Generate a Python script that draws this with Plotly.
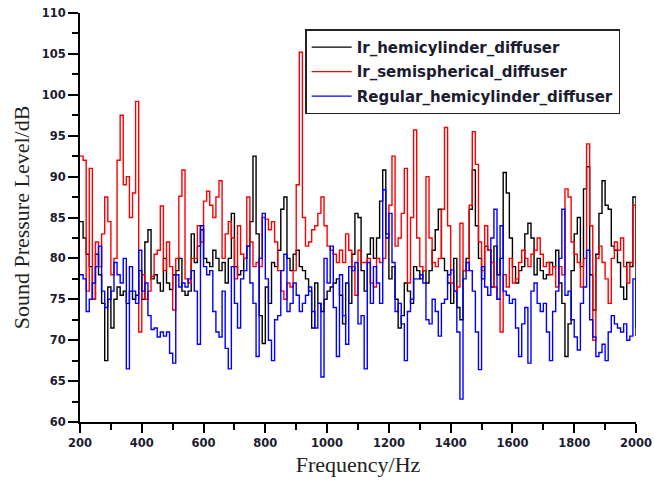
import plotly.graph_objects as go

# Frequency axis: 200 Hz to 2000 Hz in 10 Hz steps
freq_start, freq_stop, freq_step = 200, 2000, 10
freq = list(range(freq_start, freq_stop + 1, freq_step))

series_names = [
    "Ir_hemicylinder_diffuser",
    "Ir_semispherical_diffuser",
    "Regular_hemicylinder_diffuser",
]

ir_hemicylinder = [
    84.5, 82.5, 80.5, 79, 75, 80.5, 78, 74.5, 67.5, 76.5, 71.5, 75, 76.5, 75.5, 76, 74.5, 76, 75, 75.5, 78.5, 75, 82, 83.5,
    77.5, 78, 77, 76, 80, 77, 76.2, 78, 78.5, 80, 76, 75.5, 76, 83, 79.5, 81.5, 83.5, 80, 79.5, 79, 81, 80,
    78.5, 79.5, 77, 80, 85.5, 79, 78, 78.5, 80, 81.5, 84.5, 92.5, 83, 73, 69.6, 76.5, 74.5, 79.5, 79, 81, 86, 87.5, 80,
    78.5, 80.5, 81, 79, 78.5, 77.5, 76, 71.5, 77, 74.5, 73.5, 75, 76, 76.5, 77, 77.5, 75.5, 72, 77, 74.5, 80.5, 85.5,
    85, 78.5, 76, 80.5, 82.5, 80, 82.5, 87, 90.8, 83, 77.5, 79, 75, 71.5, 73, 77, 76, 74.5, 79, 78.5, 77.5, 78.5, 77,
    78.5, 81, 83.5, 86, 80, 78.5, 77, 74.5, 80, 74, 72.5, 78.5, 80, 86, 90.8, 84, 80, 77.5, 81.5, 81, 76.5, 81.5, 78,
    80, 90.5, 88, 82.5, 79, 77, 78.5, 79, 83, 84.3, 82.5, 78, 80, 78.5, 77.5, 78, 79.5, 79, 81, 77, 74.5, 68,
    72, 78.5, 83, 85, 79, 88.5, 91.2, 78, 73.7, 80.5, 85.5, 89.5, 86.5, 86, 81.5, 81, 79.5, 76.5, 75, 79.5, 79, 87.5, 70.5,
]

ir_semispherical = [
    92.5, 92, 76, 91, 75, 82, 79, 83, 87.5, 84.5, 78, 80, 92, 97.5, 89, 90, 85, 88, 99.2, 71, 78, 75, 76,
    77.8, 80.5, 81, 86.4, 78.5, 82, 79, 73.7, 80, 87.6, 90.8, 77.5, 77, 80, 80, 84, 82, 87, 88.2, 86.5, 85, 87.5,
    89.5, 80, 83, 84.5, 82.5, 77.5, 84, 80.5, 80, 87.5, 82, 79, 79.5, 79, 85, 84.8, 83.5, 84.5, 82, 78.5, 76, 75, 77,
    76.5, 78.5, 89, 105.2, 85, 81.5, 82, 83.5, 84, 85.5, 87.5, 84, 81.5, 81, 80.5, 79.5, 81, 79.5, 83, 81, 79, 75.5,
    81, 79.5, 79.5, 80, 77, 76.5, 80, 79.5, 80, 82.5, 86.5, 92.5, 81.5, 82.5, 85.5, 91, 77, 85, 95.7, 82.5, 79, 78.5, 90,
    82.5, 79.5, 79, 80, 86, 96, 84, 77, 76, 76.5, 84.3, 78.5, 78.5, 86.5, 95.5, 91.5, 82, 78.5, 84, 81, 79.5, 76.5, 75,
    71, 78, 76.5, 80, 77, 77.5, 79.5, 81, 80, 79, 80.5, 81, 82.5, 80.5, 79, 79.5, 78, 79, 76.5, 79, 78, 88.5,
    87.5, 82, 80.5, 79.5, 76.5, 80, 94, 84, 70, 80, 81.5, 79.5, 77.5, 74.5, 80, 82, 81, 82.5, 79, 77, 79.5, 86.5, 79,
]

regular_hemicylinder = [
    78, 77.5, 73.5, 75, 77, 79, 81.5, 76, 74, 75, 76, 79.5, 78, 77, 80, 66.5, 79, 76, 74.5, 81, 76, 77, 73,
    71.3, 71.5, 70.4, 71, 70.5, 71, 68.4, 67.2, 78, 76.5, 77, 76.5, 77.5, 78.5, 76, 69.5, 84, 79, 78, 78.5, 73.5, 71,
    70.4, 76, 69, 66.5, 79, 74.5, 71.5, 77.5, 78.5, 81.5, 77, 74.5, 68, 80, 85.5, 77.5, 70, 67.5, 72.5, 73, 78.5, 80.5, 73.5,
    74.5, 77, 75.5, 73.5, 74.5, 75.5, 76.5, 73.5, 71.5, 74.5, 65.5, 80, 77, 81.5, 74, 68, 78, 73, 69.5, 79, 78.5, 79.5,
    72, 73, 66.5, 79.5, 74.5, 79, 77, 74.5, 88.4, 82.5, 85.5, 79.5, 73.5, 74.5, 72, 67.5, 73.5, 75, 77.5, 77.5, 78, 77, 72.5,
    72, 75, 73.5, 70.5, 74.5, 75, 78, 78.6, 76, 71, 62.8, 77.5, 79.5, 78.5, 76, 71, 66.4, 79, 76.5, 75.5, 82.5, 86, 75,
    84, 76, 75.5, 74.5, 75, 71.5, 68, 72, 74, 67.2, 76, 77, 74.5, 73.5, 74.5, 71, 67.5, 73.5, 76, 80, 86, 75.5,
    76, 72.5, 70.4, 68.8, 74.5, 76.5, 81, 72.5, 70.4, 68, 68.5, 69.5, 67.5, 71, 73, 72, 71.5, 71, 72, 70, 70.5, 77.5, 71.5,
]

series_values = [ir_hemicylinder, ir_semispherical, regular_hemicylinder]
series_colors = ["#000000", "#ff0000", "#0000ff"]

x_tick_vals = list(range(200, 2001, 200))
x_tick_text = [str(v) for v in x_tick_vals]
y_tick_vals = list(range(60, 111, 5))
y_tick_text = [str(v) for v in y_tick_vals]

fig = go.Figure()
for name, vals, color in zip(series_names, series_values, series_colors):
    fig.add_trace(go.Scatter(
        x=freq, y=vals, name=name, mode="lines", legendgroup=name,
        line=dict(color=color, width=1.4, shape="hv"),
    ))

tick_font = dict(family="DejaVu Sans, Arial, sans-serif", size=11.5, color="#1c1c30", weight="bold")
title_font = dict(family="Liberation Serif, Times New Roman, serif", size=22, color="#222222")

fig.update_layout(
    width=654, height=482,
    margin=dict(l=80, r=18, t=13, b=60),
    paper_bgcolor="white", plot_bgcolor="white",
    showlegend=True,
    legend=dict(
        x=0.405, y=0.96, xanchor="left", yanchor="top",
        bgcolor="white", bordercolor="#222222", borderwidth=1.5,
        font=dict(family="DejaVu Sans, Arial, sans-serif", size=15, color="#1c1c30", weight="bold"),
        itemwidth=40, tracegroupgap=2,
    ),
    xaxis=dict(
        range=[200, 2000], showgrid=False, zeroline=False, automargin=False,
        showline=True, linecolor="black", linewidth=2,
        ticks="outside", ticklen=9, tickwidth=2, tickcolor="black",
        tickvals=x_tick_vals, ticktext=x_tick_text, tickfont=tick_font,
        minor=dict(dtick=100, ticks="outside", ticklen=6, tickcolor="black", tickwidth=1.5),
        title=dict(text="Frequency/Hz", font=title_font, standoff=8),
    ),
    yaxis=dict(
        range=[60, 110], showgrid=False, zeroline=False, automargin=False,
        showline=True, linecolor="black", linewidth=2,
        ticks="outside", ticklen=10, tickwidth=2, tickcolor="black",
        tickvals=y_tick_vals, ticktext=y_tick_text, tickfont=tick_font,
        minor=dict(dtick=2.5, ticks="outside", ticklen=6, tickcolor="black", tickwidth=1.5),
        title=dict(text="Sound Pressure Level/dB", font=title_font, standoff=6),
    ),
)

fig.write_html("out.html")
